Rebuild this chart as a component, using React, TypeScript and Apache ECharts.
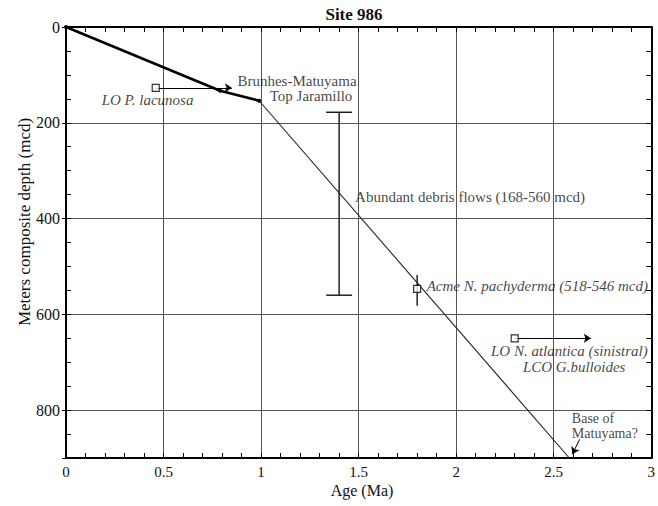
import React, { useEffect, useRef } from "react";
import * as echarts from "echarts";

// ---- data (Age in Ma, depth in mcd) ----
const upperModelAges = [0, 0.79, 0.99];
const upperModelDepths = [0, 133, 154];
const lowerModelAges = [0.99, 2.58];
const lowerModelDepths = [154, 900];

// datums drawn as open squares
const datumAges = [0.46, 1.8, 2.3];
const datumDepths = [127, 547, 650];
// arrows: from (age, depth) to (age, depth)
const arrowFromAges = [0.46, 2.3, 2.633];
const arrowFromDepths = [127, 650, 861];
const arrowToAges = [0.85, 2.69, 2.596];
const arrowToDepths = [127, 650, 892];

// debris flow interval
const debrisAge = [1.4];
const debrisTop = [178];
const debrisBottom = [560];
// acme range
const acmeAge = [1.8];
const acmeTop = [518];
const acmeBottom = [582];

const xTickLabels = ["0", "0.5", "1", "1.5", "2", "2.5", "3"];
const yTickLabels = ["0", "200", "400", "600", "800"];

const noteTexts = [
  "Brunhes-Matuyama",
  "Top Jaramillo",
  "LO P. lacunosa",
  "Abundant debris flows (168-560 mcd)",
  "Acme N. pachyderma (518-546 mcd)",
  "LO N. atlantica (sinistral)",
  "LCO G.bulloides",
  "Base of",
  "Matuyama?",
];
const noteItalic = [false, false, true, false, true, true, true, false, false];
const noteSize = [15, 15, 15, 15, 15, 15, 15, 14, 14];

// layout of the notes (data coordinates + alignment)
const noteLayout: [number, number, string][] = [
  [1.184, 113, "center"],
  [1.256, 144, "center"],
  [0.418, 152.5, "center"],
  [1.482, 354.6, "left"],
  [1.849, 540.5, "left"],
  [2.58, 677, "center"],
  [2.605, 710.4, "center"],
  [2.593, 818, "left"],
  [2.593, 849.5, "left"],
];

const FONT = "Liberation Serif";
const INK = "#111";

function errorBarSeries(ages: number[], tops: number[], bottoms: number[], capHalf: number) {
  return {
    type: "custom",
    xAxisIndex: 0,
    yAxisIndex: 0,
    encode: { x: 0, y: [1, 2] },
    data: ages.map((a, i) => [a, tops[i], bottoms[i]]),
    z: 4,
    renderItem: (_params: any, api: any) => {
      const x = api.value(0);
      const p1 = api.coord([x, api.value(1)]);
      const p2 = api.coord([x, api.value(2)]);
      const style = { stroke: "#000", lineWidth: 1.3 };
      const children: any[] = [
        { type: "line", shape: { x1: p1[0], y1: p1[1], x2: p2[0], y2: p2[1] }, style },
      ];
      if (capHalf > 0) {
        children.push({ type: "line", shape: { x1: p1[0] - capHalf, y1: p1[1], x2: p1[0] + capHalf, y2: p1[1] }, style });
        children.push({ type: "line", shape: { x1: p2[0] - capHalf, y1: p2[1], x2: p2[0] + capHalf, y2: p2[1] }, style });
      }
      return { type: "group", children };
    },
  };
}

export default function App() {
  const ref = useRef<HTMLDivElement>(null);

  useEffect(() => {
    if (!ref.current) return;
    const chart = echarts.init(ref.current, undefined, { renderer: "svg" });

    const axisLineStyle = { color: "#000", width: 2 };
    const gridColor = "#555";
    const xLabelFmt = (v: number) => {
      const idx = Math.round(v / 0.5);
      return Math.abs(idx * 0.5 - v) < 1e-9 ? xTickLabels[idx] ?? "" : "";
    };
    const yLabelFmt = (v: number) => {
      const idx = Math.round(v / 200);
      return Math.abs(idx * 200 - v) < 1e-9 ? yTickLabels[idx] ?? "" : "";
    };

    const commonY = { type: "value", min: 0, max: 900, inverse: true };
    const commonX = { type: "value", min: 0, max: 3 };
    const tickStyle = { color: "#000", width: 1 };

    chart.setOption({
      animation: false,
      backgroundColor: "#fff",
      grid: { left: 66, right: 3, top: 27, bottom: 48, containLabel: false },
      xAxis: [
        {
          ...commonX,
          position: "bottom",
          interval: 0.5,
          axisLine: { show: true, onZero: false, lineStyle: axisLineStyle },
          axisTick: { show: true, inside: true, length: 5, lineStyle: tickStyle },
          minorTick: { show: true, splitNumber: 5, length: 5, lineStyle: tickStyle },
          splitLine: { show: true, lineStyle: { color: gridColor, width: 1 } },
          axisLabel: { show: true, formatter: xLabelFmt, fontFamily: FONT, fontSize: 15, color: INK, margin: 6 },
        },
        {
          ...commonX,
          position: "top",
          interval: 0.1,
          axisLine: { show: true, onZero: false, lineStyle: axisLineStyle },
          axisTick: { show: true, inside: true, length: 5, lineStyle: tickStyle },
          axisLabel: { show: false },
          splitLine: { show: false },
        },
      ],
      yAxis: [
        {
          ...commonY,
          position: "left",
          interval: 50,
          axisLine: { show: true, onZero: false, lineStyle: axisLineStyle },
          axisTick: { show: true, inside: true, length: 5, lineStyle: tickStyle },
          splitLine: { show: false },
          axisLabel: { show: true, formatter: yLabelFmt, fontFamily: FONT, fontSize: 16, color: INK, margin: 6, showMaxLabel: false },
        },
        {
          ...commonY,
          position: "right",
          interval: 50,
          axisLine: { show: true, onZero: false, lineStyle: axisLineStyle },
          axisTick: { show: true, inside: true, length: 5, lineStyle: tickStyle },
          axisLabel: { show: false },
          splitLine: { show: false },
        },
        {
          ...commonY,
          position: "left",
          interval: 200,
          axisLine: { show: false, onZero: false },
          axisTick: { show: true, inside: false, length: 4, lineStyle: tickStyle },
          axisLabel: { show: false },
          splitLine: { show: true, lineStyle: { color: gridColor, width: 1 } },
        },
      ],
      graphic: [
        {
          type: "text",
          x: 354,
          y: 14,
          style: {
            text: "Site 986",
            fontFamily: FONT,
            fontSize: 17,
            fontWeight: "bold",
            fill: INK,
            align: "center",
            verticalAlign: "middle",
            textAlign: "center",
            textVerticalAlign: "middle",
          },
        },
        {
          type: "text",
          x: 362,
          y: 490,
          style: {
            text: "Age (Ma)",
            fontFamily: FONT,
            fontSize: 16,
            fill: INK,
            align: "center",
            verticalAlign: "middle",
            textAlign: "center",
            textVerticalAlign: "middle",
          },
        },
        {
          type: "text",
          x: 24,
          y: 222,
          rotation: Math.PI / 2,
          style: {
            text: "Meters composite depth (mcd)",
            fontFamily: FONT,
            fontSize: 17,
            fill: INK,
            align: "center",
            verticalAlign: "middle",
            textAlign: "center",
            textVerticalAlign: "middle",
          },
        },
      ],
      series: [
        {
          type: "line",
          data: upperModelAges.map((a, i) => [a, upperModelDepths[i]]),
          lineStyle: { color: "#000", width: 2.6 },
          itemStyle: { color: "#000" },
          symbol: "circle",
          symbolSize: 4,
          showSymbol: true,
          z: 5,
        },
        {
          type: "line",
          data: lowerModelAges.map((a, i) => [a, lowerModelDepths[i]]),
          lineStyle: { color: "#222", width: 1.1 },
          symbol: "none",
          z: 4,
        },
        errorBarSeries(debrisAge, debrisTop, debrisBottom, 13),
        errorBarSeries(acmeAge, acmeTop, acmeBottom, 0),
        {
          type: "line",
          data: [],
          markLine: {
            silent: true,
            symbol: ["none", "arrow"],
            symbolSize: 7,
            label: { show: false },
            lineStyle: { color: "#000", width: 1, type: "solid" },
            data: arrowFromAges.map((a, i) => [
              { coord: [a, arrowFromDepths[i]] },
              { coord: [arrowToAges[i], arrowToDepths[i]] },
            ]),
          },
          z: 5,
        },
        {
          type: "scatter",
          data: datumAges.map((a, i) => [a, datumDepths[i]]),
          symbol: "rect",
          symbolSize: 7,
          itemStyle: { color: "#fff", borderColor: "#000", borderWidth: 1.2 },
          z: 6,
        },
        {
          type: "scatter",
          symbolSize: 0,
          silent: true,
          z: 7,
          data: noteTexts.map((t, i) => ({
            value: [noteLayout[i][0], noteLayout[i][1]],
            label: {
              show: true,
              formatter: t,
              position: [0, 0],
              align: noteLayout[i][2],
              verticalAlign: "middle",
              fontFamily: FONT,
              fontSize: noteSize[i],
              fontStyle: noteItalic[i] ? "italic" : "normal",
              color: INK,
            },
          })),
        },
      ],
    });

    return () => chart.dispose();
  }, []);

  return (
    <div
      ref={ref}
      style={{ position: "absolute", left: 0, top: 0, width: 658, height: 506, background: "#fff" }}
    />
  );
}
